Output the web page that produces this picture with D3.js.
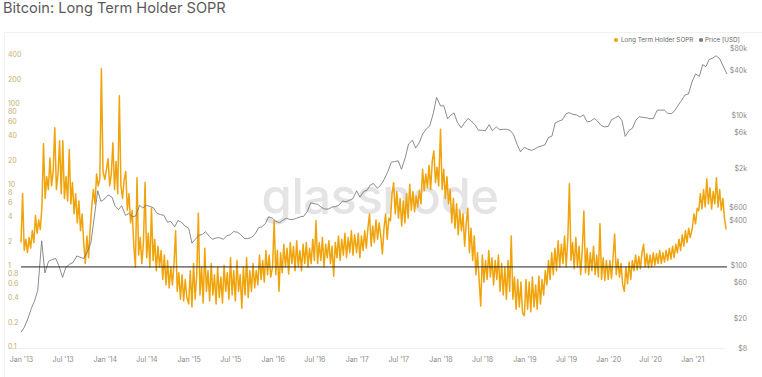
<!DOCTYPE html>
<html>
<head>
<meta charset="utf-8">
<script src="https://cdn.jsdelivr.net/npm/d3@7"></script>
<style>
  body { margin: 0; background: #fff; }
  text { font-family: Inter, "Open Sans", sans-serif; }
  .title { font-size: 14.6px; fill: #5a5a5a; }
  .axis text { font-size: 7px; fill: #8a8a8a; }
  .axis-left text { fill: #c9ad6e; }
  .legend { font-size: 6.3px; fill: #666; }
  .watermark { font-size: 49px; fill: #e4e4e4; font-weight: 500; letter-spacing: -0.5px; }
</style>
</head>
<body>
<div id="chart"></div>
<script>
// LTH SOPR, weekly readings per year
const sopr2013 = [2.0, 8.0, 1.6, 2.2, 1.5, 2.3, 1.7, 2.8, 2.0, 4.3, 2.6, 3.8, 2.9, 5.5, 33, 7, 13, 9, 22, 10, 15, 52, 9, 14, 36, 8,
  36, 7, 13, 6.5, 28, 6, 11, 4.5, 8, 3.5, 6.5, 2.8, 4.5, 2.0, 1.1, 2.4, 1.3, 3.0, 5.5, 9, 6, 14, 10, 12, 278, 15];
const sopr2014 = [12, 16, 21.6, 10, 14, 34, 9, 20, 8, 129, 10, 7, 12, 15, 5, 8, 3.5, 5, 1.8, 1.0, 12.6, 1.4, 2.3, 1.1, 2.0, 11,
  1.3, 2.6, 1.0, 5.3, 1.2, 2.2, 0.9, 1.8, 1.0, 1.6, 0.7, 1.4, 0.6, 1.2, 0.55, 1.0, 0.6, 1.1, 2.8, 0.5, 0.85, 0.4, 0.8, 0.38, 0.7, 0.42];
const sopr2015 = [0.35, 0.9, 0.32, 1.1, 0.4, 0.8, 4.6, 0.45, 1.0, 0.36, 1.7, 0.5, 0.9, 0.38, 1.1, 0.45, 0.8, 0.35, 1.0, 0.42, 0.75, 0.36,
  1.05, 0.5, 0.85, 0.4, 1.3, 0.45, 0.9, 0.38, 1.2, 0.5, 0.8, 0.31, 1.0, 0.45, 1.3, 0.42, 0.9, 0.5, 1.1, 0.55, 0.9, 0.6, 1.4, 0.7, 1.2, 0.65, 1.6, 0.8, 1.4, 0.75];
const sopr2016 = [1.0, 3.7, 0.8, 1.6, 0.5, 1.5, 0.85, 1.9, 1.0, 1.7, 0.82, 2.0, 1.1, 1.8, 0.9, 2.1, 1.0, 1.6, 0.9, 1.9, 1.1, 2.0, 1.0, 1.7, 1.1, 2.2,
  1.2, 3.7, 1.1, 2.0, 1.2, 2.3, 1.0, 1.9, 1.3, 2.1, 1.1, 1.8, 0.77, 2.0, 1.3, 2.4, 1.2, 2.2, 1.4, 2.6, 1.3, 2.3, 1.5, 2.8, 1.4, 2.5];
const sopr2017 = [1.5, 2.6, 1.3, 2.4, 1.6, 2.8, 1.7, 3.0, 4.5, 1.8, 3.2, 2.0, 3.8, 2.2, 3.5, 2.4, 1.45, 3.0, 4.5, 2.2, 4.0, 3.7, 8, 10.9, 4.5, 8.5,
  4.0, 7, 3.2, 6.5, 3.5, 8, 4.0, 10.5, 5, 8.5, 4.8, 7.5, 5.5, 8.7, 6, 16, 8.7, 14, 9.5, 18, 9, 20, 27, 11, 17, 10];
const sopr2018 = [50, 9, 16, 7, 13, 6, 9, 3.5, 7, 3.0, 6, 2.5, 5, 2.8, 4.5, 1.8, 3.5, 5.3, 1.5, 3.0, 1.2, 2.4, 0.8, 1.5, 0.7, 0.33,
  1.4, 0.65, 1.2, 0.7, 1.6, 0.75, 1.3, 0.6, 1.2, 0.7, 1.4, 0.5, 1.1, 0.45, 1.0, 0.4, 1.2, 0.5, 2.4, 0.4, 0.75, 0.3, 0.7, 0.32, 0.65, 0.27];
const sopr2019 = [0.25, 0.7, 0.3, 0.65, 0.28, 0.75, 0.32, 0.6, 0.3, 0.77, 0.35, 0.7, 0.45, 0.9, 0.6, 1.2, 0.7, 1.5, 0.8, 1.7, 0.9, 2.1, 1.0, 1.9, 1.1, 2.4,
  1.0, 2.2, 10.6, 1.2, 2.0, 0.95, 2.3, 1.0, 1.8, 0.8, 1.6, 4.9, 0.85, 1.7, 0.8, 1.5, 0.9, 1.8, 0.8, 1.4, 0.75, 3.4, 0.7, 1.3, 0.68, 1.2];
const sopr2020 = [0.7, 1.2, 0.72, 1.3, 2.55, 0.8, 1.25, 0.75, 1.1, 0.6, 0.5, 1.0, 0.62, 1.15, 0.7, 1.2, 0.9, 1.4, 0.92, 1.35, 0.95, 1.5, 1.9, 1.0, 1.45, 0.98,
  1.4, 1.0, 1.5, 1.05, 1.45, 1.1, 1.6, 1.1, 1.5, 1.15, 1.6, 1.2, 1.7, 1.25, 1.8, 1.3, 1.9, 1.5, 2.2, 1.6, 2.5, 1.8, 2.8, 2.0, 3.0, 2.3];
const sopr2021 = [3.0, 4.5, 3.4, 5.3, 4.9, 8, 5.2, 9, 5.5, 12.2, 6, 9.5, 5.2, 8.5, 6, 12.6, 5.5, 9, 5, 7, 4, 2.9];

// BTC price (USD), 1st and 15th of each month
const price2013 = [13, 15, 20, 27, 34, 47, 215, 80, 115, 120, 125, 100, 70, 95, 105, 110, 135, 130, 125, 150, 200, 420, 1000, 720];
const price2014 = [780, 880, 820, 620, 560, 630, 470, 500, 450, 460, 640, 590, 640, 620, 590, 500, 480, 470, 380, 390, 330, 400, 380, 340];
const price2015 = [315, 200, 230, 255, 260, 285, 245, 225, 235, 237, 225, 250, 260, 285, 280, 260, 230, 230, 238, 260, 320, 330, 365, 450];
const price2016 = [430, 390, 375, 405, 430, 415, 415, 430, 450, 455, 535, 690, 670, 660, 600, 570, 570, 605, 615, 640, 730, 710, 750, 780];
const price2017 = [1000, 820, 980, 1010, 1190, 1250, 1080, 1180, 1420, 1750, 2400, 2450, 2500, 1930, 2800, 4200, 4700, 3700, 4400, 5700, 6700, 7300, 10900, 17500];
const price2018 = [13500, 13600, 9100, 10200, 10900, 8200, 6900, 8000, 9200, 8500, 7500, 6400, 6400, 6300, 7600, 6300, 7100, 6500, 6600, 6600, 6350, 5600, 4100, 3300];
const price2019 = [3800, 3600, 3450, 3600, 3820, 3930, 4100, 5100, 5350, 8000, 8500, 8800, 10600, 11000, 10400, 10300, 9600, 10300, 8300, 8400, 9200, 8500, 7400, 7100];
const price2020 = [7200, 8800, 9400, 9900, 8600, 5300, 6400, 6800, 8800, 9700, 9500, 9400, 9100, 9200, 11800, 11900, 11900, 10800, 10600, 11500, 13800, 16000, 19000, 19500];
const price2021 = [29000, 36000, 33500, 48000, 45000, 56000, 59000, 63000, 57000, 46000, 36000];

// axis ticks
const soprTicks = [0.1, 0.2, 0.4, 0.6, 0.8, 1, 2, 4, 6, 8, 10, 20, 40, 60, 80, 100, 200, 400];
const priceTicks = [8, 20, 60, 100, 400, 600, 2000, 6000, 10000, 40000, 80000];
const priceTickLabels = ["$8", "$20", "$60", "$100", "$400", "$600", "$2k", "$6k", "$10k", "$40k", "$80k"];
const xTickLabels = ["Jan '13", "Jul '13", "Jan '14", "Jul '14", "Jan '15", "Jul '15", "Jan '16", "Jul '16", "Jan '17",
  "Jul '17", "Jan '18", "Jul '18", "Jan '19", "Jul '19", "Jan '20", "Jul '20", "Jan '21"];

const years = [2013, 2014, 2015, 2016, 2017, 2018, 2019, 2020, 2021];
const soprYears = [sopr2013, sopr2014, sopr2015, sopr2016, sopr2017, sopr2018, sopr2019, sopr2020, sopr2021];
const priceYears = [price2013, price2014, price2015, price2016, price2017, price2018, price2019, price2020, price2021];

const sopr = soprYears.flatMap((arr, k) => arr.map((v, i) => ({
  date: d3.timeDay.offset(new Date(years[k], 0, 1), 7 * i), value: v })));
const price = priceYears.flatMap((arr, k) => arr.map((v, i) => ({
  date: new Date(years[k], Math.floor(i / 2), i % 2 ? 15 : 1), value: v })));

const width = 762, height = 377;

const svg = d3.select("#chart")
  .append("svg")
    .attr("width", width)
    .attr("height", height);

// panel frame
svg.append("rect")
    .attr("x", 4.5).attr("y", 32.5)
    .attr("width", 760).attr("height", 350)
    .attr("fill", "none")
    .attr("stroke", "#f1f1f1");

// title
svg.append("text")
    .attr("class", "title")
    .attr("x", 3)
    .attr("y", 13)
  .text("Bitcoin: Long Term Holder SOPR");

// scales
const xScale = d3.scaleTime()
    .domain([new Date(2013, 0, 1), new Date(2021, 5, 1)])
    .range([21, 727]);
const ySopr = d3.scaleLog()
    .domain([0.1, 400])
    .range([348, 56]);
const yPrice = d3.scaleLog()
    .domain([8, 80000])
    .range([348, 48]);

// bottom guide
svg.append("line")
    .attr("x1", 8).attr("x2", 725)
    .attr("y1", 348.5).attr("y2", 348.5)
    .attr("stroke", "#f0f0f0");

// watermark
svg.append("text")
    .attr("class", "watermark")
    .attr("x", 380)
    .attr("y", 214)
    .attr("text-anchor", "middle")
  .text("glassnode");

// x axis
const xTicks = d3.timeMonth.every(6).range(new Date(2013, 0, 1), new Date(2021, 1, 1));
svg.append("g")
    .attr("class", "axis")
    .attr("transform", "translate(0, 352)")
  .call(d3.axisBottom(xScale).tickValues(xTicks).tickSize(0).tickPadding(5)
    .tickFormat((d, i) => xTickLabels[i]))
  .call(g => g.select(".domain").remove());

// left axis (SOPR)
svg.append("g")
    .attr("class", "axis axis-left")
    .attr("transform", "translate(8, 0)")
  .call(d3.axisLeft(ySopr).tickValues(soprTicks).tickSize(0).tickFormat(d => d))
  .call(g => g.select(".domain").remove())
  .call(g => g.selectAll("text").attr("text-anchor", "start").attr("x", 0).attr("dy", "0.1em"));

// right axis (price)
svg.append("g")
    .attr("class", "axis")
    .attr("transform", "translate(747, 0)")
  .call(d3.axisRight(yPrice).tickValues(priceTicks).tickSize(0).tickFormat((d, i) => priceTickLabels[i]))
  .call(g => g.select(".domain").remove())
  .call(g => g.selectAll("text").attr("text-anchor", "end").attr("x", 0));

// SOPR line
svg.append("path")
    .datum(sopr)
    .attr("fill", "none")
    .attr("stroke", "#f0a30a")
    .attr("stroke-width", 1.5)
    .attr("stroke-linejoin", "round")
    .attr("d", d3.line().x(d => xScale(d.date)).y(d => ySopr(d.value)));

// price line
svg.append("path")
    .datum(price)
    .attr("fill", "none")
    .attr("stroke", "#6e6e6e")
    .attr("stroke-width", 0.8)
    .attr("d", d3.line().x(d => xScale(d.date)).y(d => yPrice(d.value)));

// SOPR = 1 reference line
svg.append("line")
    .attr("x1", xScale(new Date(2013, 0, 1))).attr("x2", xScale(new Date(2021, 5, 1)))
    .attr("y1", ySopr(1)).attr("y2", ySopr(1))
    .attr("stroke", "#222")
    .attr("stroke-width", 1);

// legend
const legend = svg.append("g").attr("transform", "translate(616, 40)");
legend.append("circle").attr("r", 2.1).attr("fill", "#f0a30a");
legend.append("text").attr("class", "legend").attr("x", 5).attr("dy", "0.35em").text("Long Term Holder SOPR");
legend.append("circle").attr("cx", 85).attr("r", 2.1).attr("fill", "#777");
legend.append("text").attr("class", "legend").attr("x", 89).attr("dy", "0.35em").text("Price [USD]");
</script>
</body>
</html>
